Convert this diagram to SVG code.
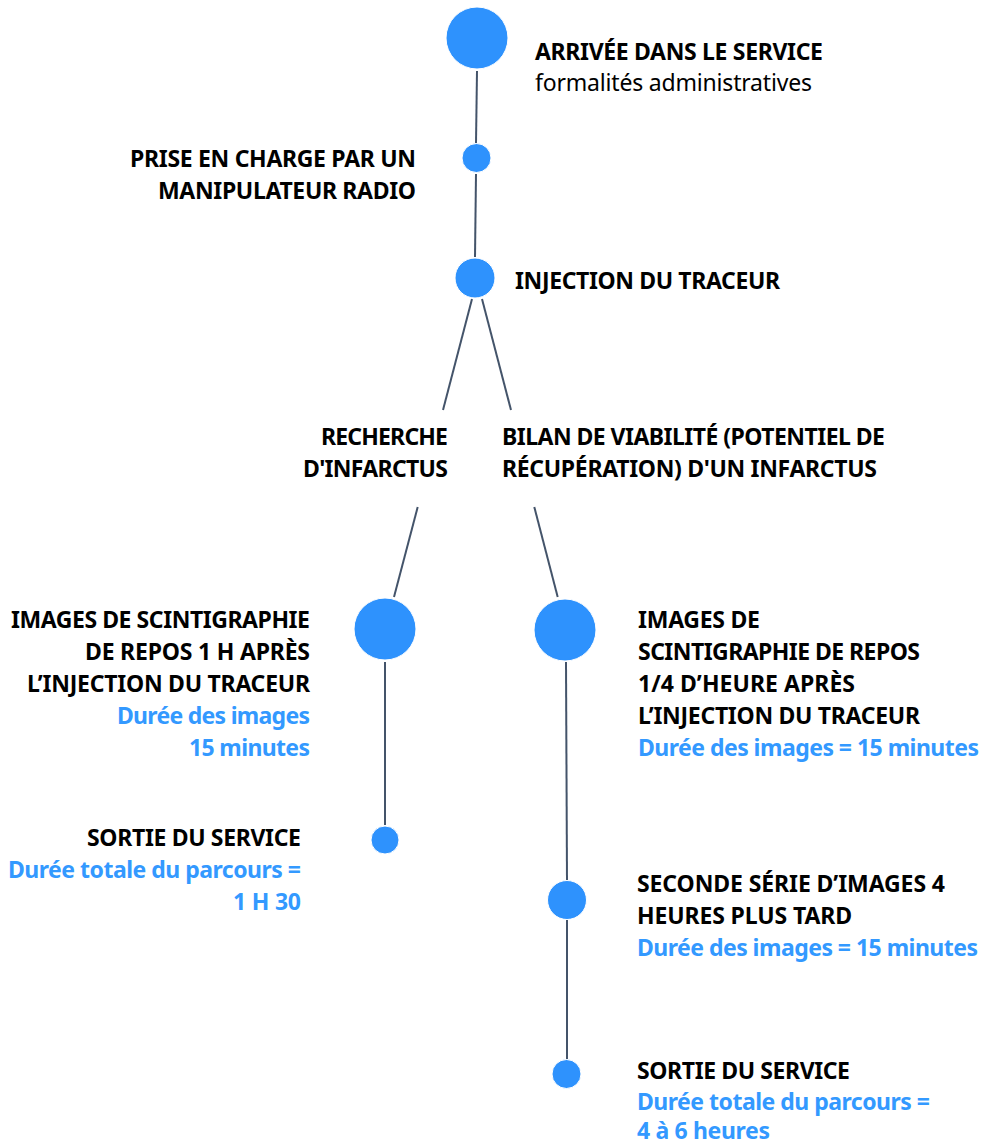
<svg xmlns="http://www.w3.org/2000/svg" width="983" height="1144" viewBox="0 0 983 1144">
<style>
text{font-family:"Noto Sans","Open Sans","Liberation Sans",sans-serif;font-size:23px;font-weight:700;fill:#000}
text.reg{font-weight:400}
text.blue{fill:#3399ff}
.node circle{fill:#2e92fd;stroke:#ffffff;stroke-width:1}
#connectors line{stroke:#44546a;stroke-width:2;fill:none}
</style>
<rect width="983" height="1144" fill="#ffffff"/>
<g id="connectors">
<line x1="477" y1="71" x2="476" y2="143"/>
<line x1="476" y1="174" x2="475" y2="257"/>
<line x1="472" y1="299" x2="443" y2="410"/>
<line x1="482" y1="299" x2="511" y2="410"/>
<line x1="417.7" y1="507" x2="394" y2="597"/>
<line x1="534.3" y1="507" x2="557.7" y2="597"/>
<line x1="385" y1="662" x2="385" y2="825"/>
<line x1="566" y1="662" x2="567" y2="880"/>
<line x1="567" y1="920" x2="567" y2="1059"/>
</g>
<g id="n-arrivee" class="node">
<circle cx="477" cy="38" r="31"/>
<text x="535" y="60" textLength="288">ARRIVÉE DANS LE SERVICE</text>
<text class="reg" x="535" y="91" textLength="277">formalités administratives</text>
</g>
<g id="n-prise" class="node">
<circle cx="476.5" cy="158" r="14.5"/>
<text x="130" y="167" textLength="286">PRISE EN CHARGE PAR UN</text>
<text x="158" y="199" textLength="258">MANIPULATEUR RADIO</text>
</g>
<g id="n-injection" class="node">
<circle cx="475" cy="278" r="20"/>
<text x="515" y="289" textLength="265">INJECTION DU TRACEUR</text>
</g>
<g id="n-recherche" class="node">
<text x="321" y="445" textLength="127">RECHERCHE</text>
<text x="303" y="477" textLength="145">D'INFARCTUS</text>
</g>
<g id="n-bilan" class="node">
<text x="502" y="445" textLength="383">BILAN DE VIABILITÉ (POTENTIEL DE</text>
<text x="502" y="477" textLength="375">RÉCUPÉRATION) D'UN INFARCTUS</text>
</g>
<g id="n-images-1h" class="node">
<circle cx="385" cy="629" r="31"/>
<text x="11" y="628" textLength="299">IMAGES DE SCINTIGRAPHIE</text>
<text x="85" y="660" textLength="225">DE REPOS 1 H APRÈS</text>
<text x="27" y="692" textLength="283">L’INJECTION DU TRACEUR</text>
<text class="blue" x="117" y="724" textLength="193">Durée des images</text>
<text class="blue" x="189" y="756" textLength="121">15 minutes</text>
</g>
<g id="n-images-quart" class="node">
<circle cx="565" cy="630" r="31"/>
<text x="638" y="628" textLength="122">IMAGES DE</text>
<text x="638" y="660" textLength="282">SCINTIGRAPHIE DE REPOS</text>
<text x="638" y="692" textLength="217">1/4 D’HEURE APRÈS</text>
<text x="638" y="724" textLength="282">L’INJECTION DU TRACEUR</text>
<text class="blue" x="638" y="756" textLength="341">Durée des images = 15 minutes</text>
</g>
<g id="n-sortie-1" class="node">
<circle cx="385" cy="840" r="14"/>
<text x="87" y="846" textLength="214">SORTIE DU SERVICE</text>
<text class="blue" x="8" y="878" textLength="293">Durée totale du parcours =</text>
<text class="blue" x="233" y="910" textLength="68">1 H 30</text>
</g>
<g id="n-seconde" class="node">
<circle cx="567" cy="900" r="19.5"/>
<text x="637" y="892" textLength="308">SECONDE SÉRIE D’IMAGES 4</text>
<text x="637" y="924" textLength="215">HEURES PLUS TARD</text>
<text class="blue" x="637" y="956" textLength="341">Durée des images = 15 minutes</text>
</g>
<g id="n-sortie-2" class="node">
<circle cx="566.5" cy="1074" r="14.5"/>
<text x="637" y="1079" textLength="213">SORTIE DU SERVICE</text>
<text class="blue" x="637" y="1110" textLength="293">Durée totale du parcours =</text>
<text class="blue" x="637" y="1139" textLength="133">4 à 6 heures</text>
</g>
</svg>
